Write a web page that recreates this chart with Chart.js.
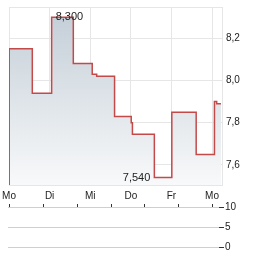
<!DOCTYPE html>
<html>
<head>
<meta charset="utf-8">
<script src="https://cdn.jsdelivr.net/npm/chart.js@4"></script>
<style>
  html, body { margin: 0; padding: 0; background: #fff; }
  #wrap { position: relative; width: 264px; height: 255px; overflow: hidden; }
  #price { position: absolute; left: 0; top: 0; }
  #volume { position: absolute; left: 0; top: 195px; }
</style>
</head>
<body>
<div id="wrap">
  <canvas id="price" width="264" height="205"></canvas>
  <canvas id="volume" width="264" height="60"></canvas>
</div>
<script>
// Wochenverlauf (Tage seit Montag)
const dayLabels = ['Mo', 'Di', 'Mi', 'Do', 'Fr', 'Mo'];
const dayTicks = [0, 1, 2, 3, 4, 5];
const times = [0, 0.005, 0.574, 1.05, 1.584, 2.05, 2.16, 2.60, 3.01, 3.04, 3.58, 4.01, 4.61, 5.06, 5.115, 5.22];
const prices = [7.40, 8.15, 7.94, 8.30, 8.08, 8.03, 8.02, 7.83, 7.80, 7.745, 7.54, 7.85, 7.65, 7.90, 7.89, 7.89];
const priceTicks = [7.6, 7.8, 8.0, 8.2];
const volumeTicks = [0, 5, 10];
const volumes = [];

const FONT = '"Liberation Sans", Arial, sans-serif';
const TEXT = '#222';
const GRID = '#e6e6e6';
const NONE = 'rgba(0,0,0,0)';
Chart.defaults.font.family = FONT;
Chart.defaults.font.size = 10;

const fmt = (v, d) => v.toFixed(d).replace('.', ',');

// Rahmen um den Plotbereich
const plotFrame = {
  id: 'plotFrame',
  beforeDatasetsDraw(chart) {
    const { ctx, chartArea: a } = chart;
    ctx.save();
    ctx.strokeStyle = GRID;
    ctx.lineWidth = 1;
    ctx.strokeRect(a.left + 0.5, a.top + 0.5, a.width, a.height);
    ctx.restore();
  }
};

// Hoch / Tief beschriften
const extremeLabels = {
  id: 'extremeLabels',
  afterDatasetsDraw(chart) {
    const { ctx, scales: { x, y } } = chart;
    const vals = prices.slice(1);
    const hi = Math.max(...vals), lo = Math.min(...vals);
    const iHi = prices.indexOf(hi), iLo = prices.indexOf(lo);
    ctx.save();
    ctx.font = '11px ' + FONT;
    ctx.fillStyle = TEXT;
    ctx.textBaseline = 'middle';
    ctx.textAlign = 'left';
    ctx.fillText(fmt(hi, 3), x.getPixelForValue(times[iHi]) + 4, y.getPixelForValue(hi));
    ctx.textAlign = 'right';
    ctx.fillText(fmt(lo, 3), x.getPixelForValue(times[iLo]) - 4, y.getPixelForValue(lo));
    ctx.restore();
  }
};

new Chart(document.getElementById('price'), {
  type: 'line',
  data: {
    datasets: [{
      data: times.map((t, i) => ({ x: t, y: prices[i] })),
      stepped: true,
      borderColor: '#c44a4a',
      borderWidth: 1.5,
      pointRadius: 0,
      fill: 'start',
      backgroundColor: (c) => {
        const a = c.chart.chartArea;
        if (!a) return '#dde4ea';
        const g = c.chart.ctx.createLinearGradient(0, a.top, 0, a.bottom);
        g.addColorStop(0, '#c2cdd6');
        g.addColorStop(1, '#f8f9fa');
        return g;
      }
    }]
  },
  options: {
    responsive: false,
    animation: false,
    events: [],
    layout: { padding: { left: 9, top: 7, right: 0, bottom: 0 } },
    plugins: { legend: { display: false }, tooltip: { enabled: false } },
    scales: {
      x: {
        type: 'linear', min: 0, max: 5.246,
        afterBuildTicks: s => { s.ticks = dayTicks.map(v => ({ value: v })); },
        afterFit: s => { s.height = 20; },
        grid: { color: GRID, drawTicks: true, tickLength: 3, tickColor: NONE },
        border: { display: false },
        ticks: { callback: (v, i) => dayLabels[i], padding: 2, color: TEXT, maxRotation: 0, autoSkip: false }
      },
      y: {
        position: 'right', min: 7.505, max: 8.348,
        afterBuildTicks: s => { s.ticks = priceTicks.map(v => ({ value: v })); },
        afterFit: s => { s.width = 42; },
        grid: { color: GRID, drawTicks: true, tickLength: 4, tickColor: NONE },
        border: { display: false },
        ticks: { callback: v => fmt(v, 1), padding: 0, color: TEXT }
      }
    }
  },
  plugins: [plotFrame, extremeLabels]
});

new Chart(document.getElementById('volume'), {
  type: 'bar',
  data: { datasets: [{ data: volumes, backgroundColor: '#9aa9b6' }] },
  options: {
    responsive: false,
    animation: false,
    events: [],
    layout: { padding: { left: 8, top: 9, right: 0, bottom: 8 } },
    plugins: { legend: { display: false }, tooltip: { enabled: false } },
    scales: {
      x: {
        type: 'linear', position: 'top', min: -0.025, max: 5.172,
        afterBuildTicks: s => { s.ticks = dayTicks.map(v => ({ value: v })); },
        afterFit: s => { s.height = 3; },
        grid: { drawOnChartArea: false, drawTicks: true, tickLength: 3, tickColor: '#333' },
        border: { display: false },
        ticks: { display: false }
      },
      y: {
        position: 'right', min: 0, max: 10,
        afterBuildTicks: s => { s.ticks = volumeTicks.map(v => ({ value: v })); },
        afterFit: s => { s.width = 45; },
        grid: { color: '#cfcfcf', tickColor: '#333', tickLength: 5 },
        border: { display: false },
        ticks: { padding: 1, color: TEXT }
      }
    }
  }
});
</script>
</body>
</html>
